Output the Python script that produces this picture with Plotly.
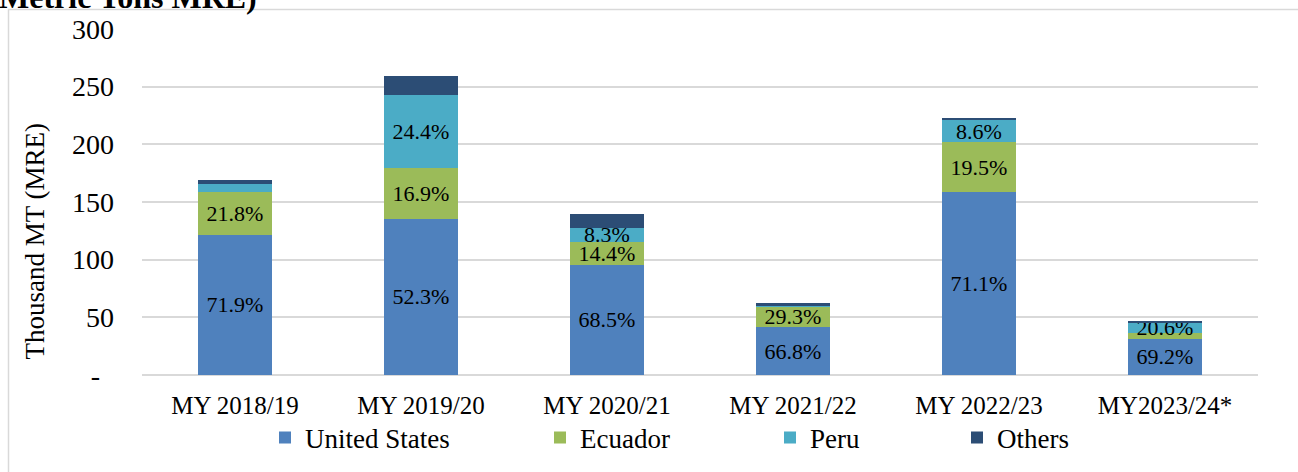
import plotly.graph_objects as go

# ---------------- data ----------------
categories = ["MY 2018/19", "MY 2019/20", "MY 2020/21", "MY 2021/22", "MY 2022/23", "MY2023/24*"]
united_states = [121.5, 135.5, 95.5, 41.4, 158.4, 31.6]
ecuador = [36.8, 43.8, 20.1, 18.2, 43.4, 4.8]
peru = [7.2, 63.2, 11.6, 0.6, 19.2, 9.4]
others = [3.5, 16.8, 12.3, 1.8, 1.8, 0.2]

us_labels = ["71.9%", "52.3%", "68.5%", "66.8%", "71.1%", "69.2%"]
ecuador_labels = ["21.8%", "16.9%", "14.4%", "29.3%", "19.5%", ""]
peru_labels = ["", "24.4%", "8.3%", "", "8.6%", "20.6%"]
others_labels = ["", "", "", "", "", ""]

y_tickvals = [0, 50, 100, 150, 200, 250, 300]
y_ticktext = ["-\u00a0\u00a0", "50", "100", "150", "200", "250", "300"]

series_names = ["United States", "Ecuador", "Peru", "Others"]
colors = ["#4F81BD", "#9BBB59", "#4BACC6", "#2C4D75"]

# ---------------- layout geometry (pixels) ----------------
W, H = 1298, 472
PL, PR, PT, PB = 142, 1258, 29, 375  # plot area edges


def px_x(px):
    return (px - PL) / (PR - PL)


def px_y(py):
    return (PB - py) / (PB - PT)


FONT = "Liberation Serif"

fig = go.Figure()
series_values = [united_states, ecuador, peru, others]
series_labels = [us_labels, ecuador_labels, peru_labels, others_labels]
legend_ids = ["legend", "legend2", "legend3", "legend4"]
for name, vals, labs, col, lg in zip(series_names, series_values, series_labels, colors, legend_ids):
    fig.add_trace(go.Bar(
        x=categories, y=vals, name=name,
        marker=dict(color=col, line=dict(width=0)),
        text=labs, textposition="inside", insidetextanchor="middle",
        textangle=0, constraintext="none",
        textfont=dict(family=FONT, size=22, color="#000000"),
        legend=lg, hoverinfo="x+y+name",
    ))

legend_text_starts = [305, 580, 810, 997]

fig.update_layout(
    width=W, height=H,
    margin=dict(l=PL, r=W - PR, t=PT, b=H - PB, autoexpand=False),
    barmode="stack", bargap=0.6,
    plot_bgcolor="white", paper_bgcolor="white",
    font=dict(family=FONT, color="#000000"),
    uniformtext=dict(minsize=22, mode="show"),
    showlegend=True,
    xaxis=dict(
        showgrid=False, zeroline=False, showline=False, ticks="",
        tickfont=dict(family=FONT, size=25, color="#000000"),
        ticklabelstandoff=13,
    ),
    yaxis=dict(
        range=[0, 300], tickvals=y_tickvals, ticktext=y_ticktext,
        showgrid=True, gridcolor="#D9D9D9", gridwidth=1.5,
        zeroline=True, zerolinecolor="#D9D9D9", zerolinewidth=1.5,
        showline=False, ticks="",
        tickfont=dict(family=FONT, size=28, color="#000000"),
        ticklabelstandoff=27,
    ),
    annotations=[
        dict(text="Thousand MT (MRE)", xref="paper", yref="paper",
             x=px_x(34), y=px_y(241.5), xanchor="center", yanchor="middle",
             textangle=-90, showarrow=False,
             font=dict(family=FONT, size=27, color="#000000")),
        dict(text="<b>Metric Tons MRE)</b>", xref="paper", yref="paper",
             x=px_x(-3), y=px_y(17), xanchor="left", yanchor="bottom",
             showarrow=False,
             font=dict(family=FONT, size=32, color="#000000")),
    ],
    shapes=[
        dict(type="rect", xref="paper", yref="paper",
             x0=px_x(8.5), x1=px_x(1320), y0=px_y(500), y1=px_y(9.5),
             line=dict(color="#D9D9D9", width=1.5), fillcolor="rgba(0,0,0,0)",
             layer="below"),
    ],
)
for lg, ts in zip(legend_ids, legend_text_starts):
    fig.update_layout({lg: dict(
        orientation="h", yanchor="middle", xanchor="left",
        x=px_x(ts - 40), y=px_y(438),
        bgcolor="rgba(0,0,0,0)", borderwidth=0,
        font=dict(family=FONT, size=27, color="#000000"),
    )})

fig.write_html("out.html", config={"displayModeBar": False},
               post_script="document.body.style.margin='0';")
